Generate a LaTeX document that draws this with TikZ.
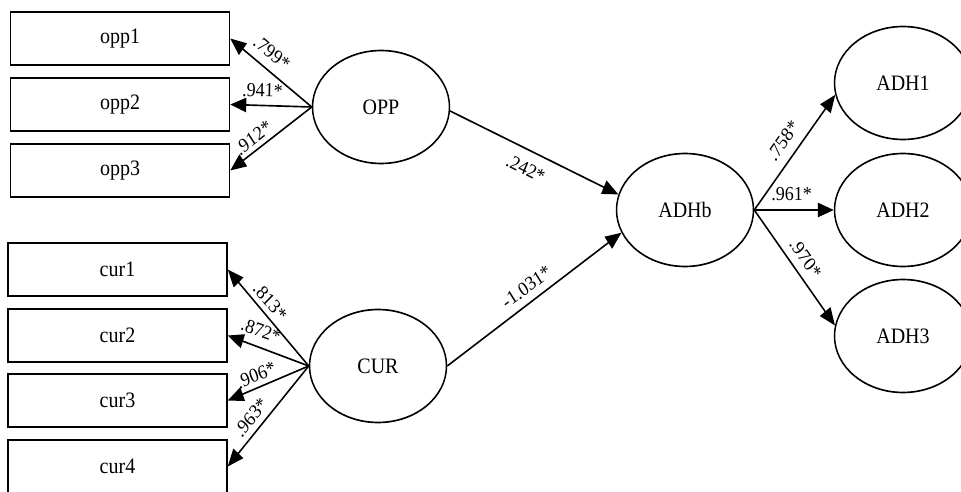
\documentclass[tikz,border=0pt]{standalone}
\usepackage{fontspec}
\setmainfont{Liberation Serif}
\usetikzlibrary{shapes.geometric,arrows.meta}
\begin{document}
\begin{tikzpicture}[x=1pt,y=-1pt,
  every node/.style={font=\fontsize{20}{24}\selectfont},
  indicator/.style={draw, line width=1.5pt, minimum width=219pt, minimum height=48.2pt, inner sep=0pt},
  latent/.style={draw, ellipse, line width=1.5pt, minimum width=137pt, minimum height=102.7pt, inner sep=0pt},
  path/.style={draw, line width=1.5pt, -{Triangle[length=16pt,width=13pt]}},
  lab/.style={sloped, inner sep=0pt, font=\fontsize{18}{21}\selectfont}]
\useasboundingbox (0,0) rectangle (961,492);
\fill[white] (0,0) rectangle (961,492);

% the whole drawing is set slightly taller than wide
\begin{scope}[y=-0.90909pt, transform canvas={yscale=1.1}]
% observed indicators
\node[indicator] (opp1) at (120,38.5) {opp1};
\node[indicator] (opp2) at (120,104.5) {opp2};
\node[indicator] (opp3) at (120,170.5) {opp3};
\node[indicator] (cur1) at (117.5,269.5) {cur1};
\node[indicator] (cur2) at (117.5,335.5) {cur2};
\node[indicator] (cur3) at (117.5,400.5) {cur3};
\node[indicator] (cur4) at (117.5,466.5) {cur4};

% latent factors
\node[latent] (OPP) at (381,107) {OPP};
\node[latent] (CUR) at (378,366) {CUR};
\node[latent] (ADHb) at (685,210) {ADHb};
\node[latent] (ADH1) at (903,83) {ADH1};
\node[latent] (ADH2) at (903,210) {ADH2};
\node[latent] (ADH3) at (903,336) {ADH3};

% loadings of OPP
\draw[path] (OPP.west) -- node[lab, pos=0.6, above=8pt] {.799*} (opp1.east);
\draw[path] (OPP.west) -- node[lab, pos=0.61, above=7pt] {.941*} (opp2.east);
\draw[path] (OPP.west) -- node[lab, pos=0.64, above=4pt] {.912*} (opp3.east);

% loadings of CUR
\draw[path] (CUR.west) -- node[lab, pos=0.58, above=4.5pt] {.813*} (cur1.east);
\draw[path] (CUR.west) -- node[lab, pos=0.65, above=8pt] {.872*} (cur2.east);
\draw[path] (CUR.west) -- node[lab, pos=0.6, above=4.5pt] {.906*} (cur3.east);
\draw[path] (CUR.west) -- node[lab, pos=0.6, above=5.5pt] {.963*} (cur4.east);

% structural paths
\draw[path] (OPP.-3) -- node[lab, pos=0.49, below=10pt] {.242*} (ADHb.168);
\draw[path] (CUR.east) -- node[lab, pos=0.5, above=7pt] {-1.031*} (ADHb.198);

% second-order loadings
\draw[path] (ADHb.east) -- node[lab, pos=0.51, above=9pt] {.758*} (ADH1.189);
\draw[path] (ADHb.east) -- node[lab, pos=0.47, above=8pt] {.961*} (ADH2.west);
\draw[path] (ADHb.east) -- node[lab, pos=0.5, above=7pt] {.970*} (ADH3.172);
\end{scope}
\end{tikzpicture}
\end{document}
